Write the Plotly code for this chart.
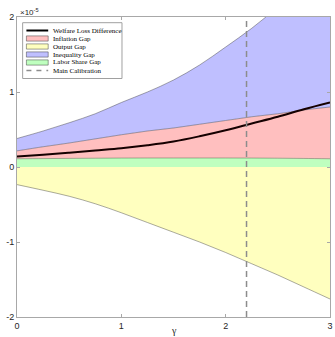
import plotly.graph_objects as go

# ---- data (values in units of 1e-5) ----
gamma = [0.0, 0.25, 0.5, 0.75, 1.0, 1.25, 1.5, 1.75, 2.0, 2.25, 2.5, 2.75, 3.0]
labor_share_gap = [0.110, 0.112, 0.115, 0.117, 0.119, 0.120, 0.120, 0.120, 0.120, 0.119, 0.117, 0.114, 0.110]
inflation_gap = [0.105, 0.158, 0.205, 0.258, 0.311, 0.360, 0.400, 0.450, 0.500, 0.551, 0.593, 0.646, 0.690]
inequality_gap = [0.165, 0.210, 0.270, 0.335, 0.430, 0.520, 0.640, 0.790, 0.980, 1.180, 1.420, 1.640, 1.850]
output_gap = [-0.235, -0.31, -0.39, -0.49, -0.61, -0.74, -0.87, -1.00, -1.14, -1.29, -1.44, -1.60, -1.76]
welfare_loss_diff = [0.14, 0.165, 0.19, 0.22, 0.25, 0.29, 0.34, 0.41, 0.49, 0.58, 0.67, 0.77, 0.86]
main_calibration = 2.2

x_ticks = [0, 1, 2, 3]
y_ticks = [-2, -1, 0, 1, 2]

legend_names = ["Welfare Loss Difference", "Inflation Gap", "Output Gap",
                "Inequality Gap", "Labor Share Gap", "Main Calibration"]

c_blue = "rgb(191,191,255)"
c_red = "rgb(255,191,191)"
c_yel = "rgb(255,255,191)"
c_grn = "rgb(191,255,191)"
edge = dict(color="rgba(60,60,60,0.55)", width=0.8, shape="spline")

fig = go.Figure()
fig.add_trace(go.Scatter(x=gamma, y=output_gap, fill="tozeroy", fillcolor=c_yel,
                         mode="lines", line=edge, showlegend=False))
fig.add_trace(go.Scatter(x=gamma, y=labor_share_gap, stackgroup="pos", fillcolor=c_grn,
                         mode="lines", line=dict(color="rgba(60,90,60,0.55)", width=0.8, shape="spline"),
                         showlegend=False))
fig.add_trace(go.Scatter(x=gamma, y=inflation_gap, stackgroup="pos", fillcolor=c_red,
                         mode="lines", line=edge, showlegend=False))
fig.add_trace(go.Scatter(x=gamma, y=inequality_gap, stackgroup="pos", fillcolor=c_blue,
                         mode="lines", line=edge, showlegend=False))
fig.add_trace(go.Scatter(x=gamma, y=welfare_loss_diff, mode="lines",
                         line=dict(color="#150000", width=2, shape="spline"), showlegend=False))
fig.add_trace(go.Scatter(x=[main_calibration, main_calibration], y=[y_ticks[0], y_ticks[-1]],
                         mode="lines", line=dict(color="#8c8c8c", width=1.5, dash="6px,4px"),
                         showlegend=False))

W, H = 335, 337
ml, mr, mt, mb = 17, 2, 17, 20
pw, ph = W - ml - mr, H - mt - mb


def px(xp):
    return (xp - ml) / pw


def py(yp):
    return (H - mb - yp) / ph


axis_common = dict(showgrid=False, zeroline=False, showline=True, linecolor="#a8a8a8",
                   linewidth=1, mirror="ticks", ticks="inside", ticklen=3,
                   tickcolor="#a8a8a8", ticklabeloverflow="allow",
                   tickfont=dict(family="Liberation Sans, Arial", size=9, color="#262626"))

fig.update_layout(
    width=W, height=H, margin=dict(l=ml, r=mr, t=mt, b=mb),
    plot_bgcolor="white", paper_bgcolor="white",
    xaxis=dict(range=[0, 3], tickvals=x_ticks, ticktext=[str(v) for v in x_ticks], **axis_common),
    yaxis=dict(range=[-2, 2], tickvals=y_ticks, ticktext=[str(v) for v in y_ticks], **axis_common),
)
fig.update_yaxes(zeroline=True, zerolinecolor="rgba(70,130,70,0.8)", zerolinewidth=1)

# exponent label
fig.add_annotation(xref="paper", yref="paper", x=px(18), y=py(12), xanchor="left", yanchor="middle",
                   text="×10<sup>-5</sup>", showarrow=False,
                   font=dict(family="Liberation Sans, Arial", size=8, color="#262626"))
# x title
fig.add_annotation(xref="paper", yref="paper", x=px(176), y=py(330), xanchor="center", yanchor="middle",
                   text="γ", showarrow=False,
                   font=dict(family="Liberation Serif, Times New Roman", size=10, color="#262626"))

# manual legend
shapes = [dict(type="rect", xref="paper", yref="paper", x0=px(22.7), x1=px(123), y0=py(78.5), y1=py(22.7),
               line=dict(color="#a0a0a0", width=1), fillcolor="white", layer="above")]
rows = [30.5, 38.5, 46.5, 54.5, 62.5, 70.5]
sym_fill = [None, c_red, c_yel, c_blue, c_grn, None]
for i, name in enumerate(legend_names):
    yc = rows[i]
    if i == 0:
        shapes.append(dict(type="line", xref="paper", yref="paper", x0=px(26.5), x1=px(48.5),
                           y0=py(yc), y1=py(yc), line=dict(color="#000000", width=2), layer="above"))
    elif i == 5:
        shapes.append(dict(type="line", xref="paper", yref="paper", x0=px(26.5), x1=px(48.5),
                           y0=py(yc), y1=py(yc), line=dict(color="#8c8c8c", width=1.3, dash="5px,5px"),
                           layer="above"))
    else:
        shapes.append(dict(type="rect", xref="paper", yref="paper", x0=px(26.5), x1=px(48.5),
                           y0=py(yc + 2.6), y1=py(yc - 2.6), fillcolor=sym_fill[i],
                           line=dict(color="rgba(60,60,60,0.7)", width=0.7), layer="above"))
    fig.add_annotation(xref="paper", yref="paper", x=px(51), y=py(yc), xanchor="left", yanchor="middle",
                       text=name, showarrow=False,
                       font=dict(family="Liberation Serif, Times New Roman", size=7, color="#000000"))
fig.update_layout(shapes=shapes)

fig.write_html("out.html")
